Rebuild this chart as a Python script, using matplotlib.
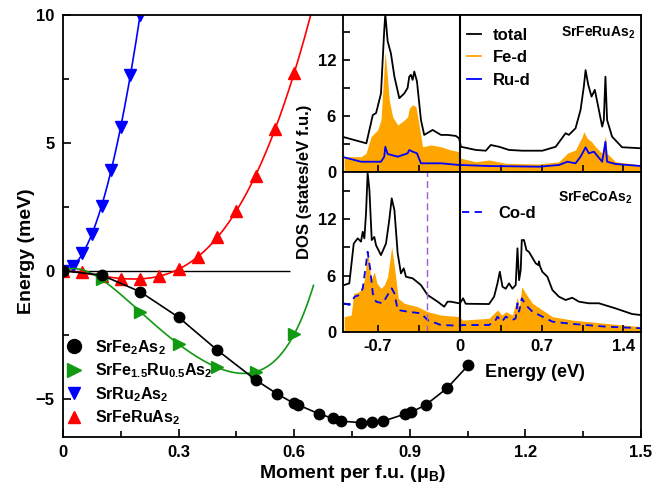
import numpy as np
import matplotlib
matplotlib.use('Agg')
import matplotlib.pyplot as plt
from matplotlib.lines import Line2D
from matplotlib.ticker import MultipleLocator

plt.rcParams['font.family'] = 'Liberation Sans'
plt.rcParams['font.weight'] = 'bold'
plt.rcParams['axes.labelweight'] = 'bold'
plt.rcParams['mathtext.fontset'] = 'custom'
plt.rcParams['mathtext.rm'] = 'Liberation Sans:bold'
plt.rcParams['mathtext.it'] = 'Liberation Sans:bold'
plt.rcParams['mathtext.bf'] = 'Liberation Sans:bold'

# ---- main panel: energy vs moment ----
m_fe2 = [0, 0.1, 0.2, 0.3, 0.4, 0.5, 0.556, 0.6, 0.611, 0.665, 0.7, 0.722,
         0.773, 0.801, 0.831, 0.888, 0.902, 0.941, 0.996, 1.052]
e_fe2 = [0, -0.17, -0.82, -1.82, -3.1, -4.27, -4.82, -5.19, -5.25, -5.6, -5.77,
         -5.88, -5.94, -5.92, -5.88, -5.6, -5.54, -5.25, -4.6, -3.69]

m_feru05 = [0, 0.1, 0.2, 0.3, 0.4, 0.5, 0.6]
e_feru05 = [0, -0.34, -1.6, -2.87, -3.78, -3.95, -2.48]

m_ru2 = [0, 0.025, 0.05, 0.075, 0.1, 0.125, 0.15, 0.175, 0.2]
e_ru2 = [0, 0.18, 0.68, 1.42, 2.53, 3.94, 5.63, 7.65, 10.0]

m_feru = [0, 0.05, 0.1, 0.15, 0.2, 0.25, 0.3, 0.35, 0.4, 0.45, 0.5, 0.55, 0.6]
e_feru = [0, -0.05, -0.2, -0.32, -0.34, -0.21, 0.07, 0.55, 1.33, 2.33, 3.72, 5.53, 7.74]

# ---- DOS, SrFeRuAs2 ----
E_tot1 = [-0.99, -0.80, -0.745, -0.717, -0.675, -0.647, -0.638, -0.618, -0.59, -0.56,
          -0.518, -0.476, -0.447, -0.433, -0.419, -0.404, -0.39, -0.367, -0.333, -0.305,
          -0.233, -0.162, -0.105, -0.034, -0.006, 0.009, 0.137, 0.222, 0.265, 0.336,
          0.421, 0.535, 0.706, 0.82, 0.905, 0.933, 0.99, 1.033, 1.061, 1.076,
          1.099, 1.127, 1.155, 1.184, 1.218, 1.232, 1.246, 1.26, 1.303, 1.388, 1.55]
D_tot1 = [3.72, 3.07, 6.1, 6.3, 8.4, 15.2, 16.9, 14.0, 12.7, 10.2,
          7.9, 8.4, 9.0, 10.2, 10.4, 9.86, 10.75, 9.7, 5.57, 3.97,
          4.5, 3.97, 3.97, 3.86, 3.6, 2.7, 2.36, 2.28, 2.89, 2.7,
          2.36, 2.28, 2.28, 2.7, 4.15, 3.97, 4.68, 6.64, 9.14, 10.9,
          9.32, 8.07, 8.79, 7.0, 4.86, 5.57, 10.2, 5.57, 3.78, 2.65, 2.54]

E_fe1 = [-0.99, -0.846, -0.803, -0.76, -0.703, -0.675, -0.652, -0.64, -0.623, -0.604,
         -0.575, -0.532, -0.49, -0.447, -0.433, -0.404, -0.376, -0.356, -0.319, -0.248,
         -0.162, -0.077, -0.006, 0.009, 0.137, 0.25, 0.393, 0.677, 0.848, 0.92,
         0.99, 1.047, 1.061, 1.09, 1.127, 1.161, 1.218, 1.246, 1.26, 1.332, 1.55]
D_fe1 = [1.64, 1.64, 2.0, 3.78, 4.5, 5.57, 10.2, 12.9, 10.6, 7.7,
         5.9, 5.04, 5.4, 5.9, 6.8, 7.2, 7.0, 5.57, 2.7, 2.9,
         2.7, 2.36, 2.18, 1.47, 1.1, 1.29, 0.93, 0.86, 1.1, 2.0,
         2.36, 3.78, 4.32, 3.6, 3.25, 2.7, 2.0, 3.86, 2.0, 1.1, 0.75]

E_ru = [-0.99, -0.846, -0.675, -0.647, -0.638, -0.618, -0.532, -0.447, -0.433, -0.404,
        -0.367, -0.333, -0.162, -0.006, 0.009, 0.25, 0.677, 0.848, 0.92, 0.99,
        1.033, 1.076, 1.104, 1.147, 1.218, 1.246, 1.26, 1.332, 1.55]
D_ru = [1.57, 1.1, 1.1, 1.64, 2.7, 1.93, 1.64, 2.0, 2.36, 2.18,
        2.0, 0.93, 0.93, 0.75, 0.75, 0.64, 0.57, 0.75, 1.1, 0.93,
        1.64, 2.64, 2.0, 2.18, 1.1, 3.25, 1.1, 0.86, 0.64]

# ---- DOS, SrFeCoAs2 ----
E_tot2 = [-0.99, -0.946, -0.908, -0.874, -0.846, -0.831, -0.817, -0.803, -0.789, -0.774,
          -0.754, -0.732, -0.717, -0.675, -0.632, -0.604, -0.583, -0.56, -0.532, -0.504,
          -0.48, -0.461, -0.404, -0.333, -0.276, -0.19, -0.134, -0.105, -0.077, -0.006,
          0.0, 0.028, 0.05, 0.25, 0.293, 0.322, 0.342, 0.365, 0.393, 0.421,
          0.45, 0.478, 0.493, 0.507, 0.521, 0.53, 0.549, 0.57, 0.592, 0.649,
          0.672, 0.677, 0.685, 0.706, 0.749, 0.792, 0.848, 0.905, 0.962, 1.019,
          1.104, 1.19, 1.332, 1.474, 1.55]
D_tot2 = [4.99, 5.17, 9.4, 9.95, 9.6, 10.65, 9.95, 12.6, 16.9, 15.1,
          9.77, 10.1, 9.2, 8.17, 9.4, 11.9, 14.2, 12.95, 8.35, 6.23,
          6.76, 5.87, 5.7, 4.99, 3.93, 3.22, 2.69, 3.22, 3.22, 3.05,
          3.05, 3.58, 3.0, 2.97, 3.75, 5.17, 6.4, 4.81, 4.6, 5.17,
          4.6, 4.99, 8.89, 5.5, 6.6, 9.77, 9.77, 8.7, 8.5, 7.3,
          7.1, 7.5, 7.0, 6.4, 5.87, 4.46, 3.75, 3.4, 3.64, 3.22,
          3.05, 3.05, 2.51, 1.91, 1.8]

E_fe2 = [-0.99, -0.93, -0.908, -0.874, -0.846, -0.817, -0.789, -0.76, -0.732, -0.709,
         -0.675, -0.646, -0.618, -0.583, -0.56, -0.527, -0.476, -0.362, -0.276, -0.162,
         -0.006, 0.023, 0.25, 0.322, 0.36, 0.393, 0.45, 0.493, 0.507, 0.53,
         0.564, 0.621, 0.706, 0.792, 0.962, 1.104, 1.39, 1.55]
D_fe2 = [1.63, 1.8, 4.1, 4.2, 4.46, 5.5, 8.7, 5.5, 6.4, 5.17,
         4.64, 4.99, 5.87, 9.06, 6.93, 3.58, 3.05, 2.69, 2.16, 1.8,
         1.63, 1.27, 1.45, 2.34, 1.8, 2.16, 1.8, 3.75, 2.34, 4.81,
         4.1, 3.05, 2.34, 1.63, 1.27, 1.1, 0.74, 0.57]

E_co = [-0.99, -0.946, -0.9, -0.86, -0.831, -0.81, -0.789, -0.766, -0.745, -0.717,
        -0.66, -0.618, -0.583, -0.56, -0.532, -0.447, -0.333, -0.276, -0.162, -0.006,
        0.023, 0.25, 0.307, 0.322, 0.36, 0.393, 0.45, 0.478, 0.493, 0.507,
        0.53, 0.564, 0.621, 0.706, 0.792, 0.962, 1.247, 1.55]
D_co = [3.05, 2.87, 3.75, 3.93, 4.64, 6.58, 8.52, 6.58, 4.1, 3.22,
        3.05, 3.93, 4.64, 4.1, 2.34, 2.16, 1.98, 1.27, 0.74, 0.67,
        0.74, 0.74, 1.27, 1.63, 1.1, 1.63, 1.27, 1.45, 3.05, 2.16,
        3.58, 2.87, 2.16, 1.63, 1.1, 0.86, 0.57, 0.4]

e_mark = -0.28

green = '#119911'


def smooth(x, y, deg, xmax):
    c = np.polyfit(x, y, deg)
    xs = np.linspace(0, xmax, 300)
    return xs, np.polyval(c, xs)


fig = plt.figure(figsize=(6.69, 4.87), dpi=100)
ax = fig.add_axes([0.0942, 0.1027, 0.864, 0.8665])

ax.hlines(0, 0, 0.59, color='k', lw=1.0)

xs, ys = smooth(m_ru2, e_ru2, 2, 0.2)
ax.plot(xs, ys, color='blue', lw=1.2)
ax.plot(m_ru2, e_ru2, 'v', color='blue', ms=8)

xs, ys = smooth(m_feru, e_feru, 4, 0.645)
ax.plot(xs, ys, color='red', lw=1.2)
ax.plot(m_feru, e_feru, '^', color='red', ms=8)

xs, ys = smooth(m_feru05, e_feru05, 5, 0.65)
ax.plot(xs, ys, color=green, lw=1.2)
ax.plot(m_feru05, e_feru05, '>', color=green, ms=8.5)

ax.plot(m_fe2, e_fe2, '-', color='k', lw=1.2)
ax.plot(m_fe2, e_fe2, 'o', color='k', ms=7.5)

ax.set_xlim(0, 1.5)
ax.set_ylim(-6.5, 10)
ax.set_xticks([0, 0.3, 0.6, 0.9, 1.2, 1.5])
ax.set_xticklabels(['0', '0.3', '0.6', '0.9', '1.2', '1.5'])
ax.set_yticks([-5, 0, 5, 10])
ax.xaxis.set_minor_locator(MultipleLocator(0.15))
ax.yaxis.set_minor_locator(MultipleLocator(2.5))
ax.tick_params(which='both', direction='in', labelsize=12, width=1.2)
ax.tick_params(which='major', length=6, pad=6)
ax.tick_params(which='minor', length=4)
for s in ax.spines.values():
    s.set_linewidth(1.3)
ax.set_xlabel('Moment per f.u. (μ$_\\mathbf{B}$)', fontsize=14, labelpad=2)
ax.set_ylabel('Energy (meV)', fontsize=14)
ax.yaxis.set_label_coords(-0.048, 0.44)

handles = [
    Line2D([], [], marker='o', color='k', ls='none', ms=10),
    Line2D([], [], marker='>', color=green, ls='none', ms=10),
    Line2D([], [], marker='v', color='blue', ls='none', ms=9),
    Line2D([], [], marker='^', color='red', ls='none', ms=9),
]
labels = ['SrFe$_2$As$_2$', 'SrFe$_{1.5}$Ru$_{0.5}$As$_2$', 'SrRu$_2$As$_2$', 'SrFeRuAs$_2$']
ax.legend(handles, labels, loc='upper left', bbox_to_anchor=(0.005, 0.235),
          frameon=False, fontsize=11.5, handlelength=1.0, handletextpad=0.8,
          labelspacing=0.3, borderpad=0, borderaxespad=0)

# ---- inset DOS panels ----
ax1 = fig.add_axes([0.5127, 0.6468, 0.4454, 0.3224])
ax2 = fig.add_axes([0.5127, 0.3183, 0.4454, 0.3285])

ax1.fill_between(E_fe1, 0, D_fe1, color='orange', lw=0)
ax1.plot(E_ru, D_ru, color='blue', lw=1.3)
ax1.plot(E_tot1, D_tot1, color='k', lw=1.3)
ax1.axvline(0, color='k', lw=1.5)
ax1.set_ylim(0, 16.8)

ax2.fill_between(E_fe2, 0, D_fe2, color='orange', lw=0)
ax2.plot(E_co, D_co, color='blue', lw=1.3, dashes=(4, 3))
ax2.plot(E_tot2, D_tot2, color='k', lw=1.3)
ax2.axvline(0, color='k', lw=1.5)
ax2.axvline(e_mark, color='#9a5ad6', lw=1.0, dashes=(5, 3))
ax2.set_ylim(0, 17)

for a in (ax1, ax2):
    a.set_facecolor('white')
    a.set_xlim(-1.0, 1.55)
    a.set_xticks([-0.7, 0, 0.7, 1.4])
    a.set_xticklabels(['-0.7', '0', '0.7', '1.4'])
    a.xaxis.set_minor_locator(MultipleLocator(0.35))
    a.set_yticks([0, 6, 12])
    a.yaxis.set_minor_locator(MultipleLocator(3))
    a.tick_params(which='both', direction='in', labelsize=12, width=1.2, length=5, pad=5)
    for s in a.spines.values():
        s.set_linewidth(1.3)
ax1.tick_params(labelbottom=False)

ax1.legend([Line2D([], [], color='k', lw=1.3),
            Line2D([], [], color='orange', lw=1.3),
            Line2D([], [], color='blue', lw=1.3)],
           ['total', 'Fe-d', 'Ru-d'], loc='upper left', bbox_to_anchor=(0.416, 0.92),
           frameon=False, fontsize=12, handlelength=0.85, handletextpad=0.7,
           labelspacing=0.45, borderpad=0, borderaxespad=0)
ax1.text(0.98, 0.885, 'SrFeRuAs$_2$', transform=ax1.transAxes, ha='right', va='center',
         fontsize=10)

ax2.legend([Line2D([], [], color='blue', lw=1.3, dashes=(4, 3))], ['Co-d'],
           loc='upper left', bbox_to_anchor=(0.4, 0.79), frameon=False, fontsize=12,
           handlelength=1.5, handletextpad=0.7, borderpad=0, borderaxespad=0)
ax2.text(0.97, 0.84, 'SrFeCoAs$_2$', transform=ax2.transAxes, ha='right', va='center',
         fontsize=10)

ax2.set_xlabel('Energy (eV)', fontsize=13, labelpad=4)
ax2.xaxis.set_label_coords(0.644, -0.2)
fig.text(305 / 669, 1 - 182 / 487, 'DOS (states/eV f.u.)', rotation=90,
         ha='center', va='center', fontsize=12)

fig.savefig('out.png', dpi=100)
